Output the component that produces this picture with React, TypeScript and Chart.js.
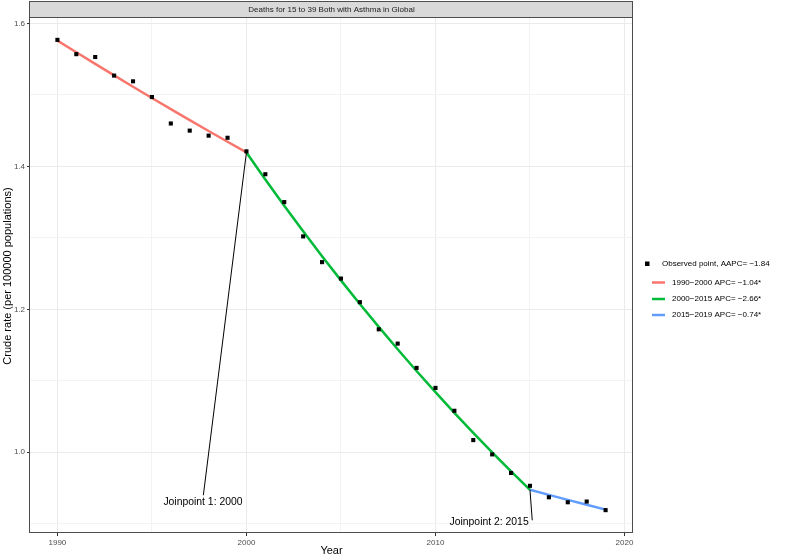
import React, { useEffect, useRef } from 'react';
import { Chart, registerables } from 'chart.js';

Chart.register(...registerables);

const FONT = '"Liberation Sans", Arial, Helvetica, sans-serif';

const TITLE = 'Deaths for 15 to 39 Both with Asthma in Global';
const X_TITLE = 'Year';
const Y_TITLE = 'Crude rate (per 100000 populations)';

const YEARS = [
  1990, 1991, 1992, 1993, 1994, 1995, 1996, 1997, 1998, 1999,
  2000, 2001, 2002, 2003, 2004, 2005, 2006, 2007, 2008, 2009,
  2010, 2011, 2012, 2013, 2014, 2015, 2016, 2017, 2018, 2019,
];
const OBSERVED = [
  1.577, 1.557, 1.553, 1.527, 1.519, 1.497, 1.460, 1.450, 1.443, 1.440,
  1.421, 1.389, 1.350, 1.302, 1.266, 1.243, 1.210, 1.172, 1.152, 1.118,
  1.090, 1.058, 1.017, 0.997, 0.971, 0.953, 0.937, 0.930, 0.931, 0.919,
];

const SEG1_YEARS = [1990, 1991, 1992, 1993, 1994, 1995, 1996, 1997, 1998, 1999, 2000];
const SEG1_FIT = [1.576, 1.5596, 1.5434, 1.5273, 1.5114, 1.4957, 1.4802, 1.4648, 1.4495, 1.4344, 1.4195];
const SEG2_YEARS = [2000, 2001, 2002, 2003, 2004, 2005, 2006, 2007, 2008, 2009, 2010, 2011, 2012, 2013, 2014, 2015];
const SEG2_FIT = [1.4195, 1.3817, 1.345, 1.3092, 1.2744, 1.2405, 1.2075, 1.1754, 1.1441, 1.1137, 1.0841, 1.0552, 1.0272, 0.9999, 0.9733, 0.9474];
const SEG3_YEARS = [2015, 2016, 2017, 2018, 2019];
const SEG3_FIT = [0.9474, 0.9404, 0.9334, 0.9265, 0.9197];

const SEG_LABELS = [
  '1990\u22122000 APC= \u22121.04*',
  '2000\u22122015 APC= \u22122.66*',
  '2015\u22122019 APC= \u22120.74*',
];
const SEG_COLORS = ['#F8766D', '#00BA38', '#619CFF'];
const POINT_LABEL = 'Observed point, AAPC= \u22121.84';

const X_TICKS = [1990, 1995, 2000, 2005, 2010, 2015, 2020];
const X_MAJOR = [1990, 2000, 2010, 2020];
const Y_TICKS = [0.9, 1.0, 1.1, 1.2, 1.3, 1.4, 1.5, 1.6];
const Y_MAJOR = [1.0, 1.2, 1.4, 1.6];

const JOINPOINTS = [
  { text: 'Joinpoint 1: 2000', year: 2000, value: 1.4195, endYear: 1997.72, endValue: 0.9398, labelYear: 1997.7, labelValue: 0.930, align: 'center' },
  { text: 'Joinpoint 2: 2015', year: 2015, value: 0.9474, endYear: 2015.12, endValue: 0.9048, labelYear: 2014.93, labelValue: 0.902, align: 'right' },
];

const isMajor = (list: number[], v: number) => list.some((m) => Math.abs(m - v) < 1e-6);

const decor = {
  id: 'decor',
  afterDatasetsDraw(chart: any) {
    const { ctx, scales } = chart;
    const x = scales.x;
    const y = scales.y;
    ctx.save();
    ctx.strokeStyle = '#000';
    ctx.lineWidth = 1;
    ctx.fillStyle = '#000';
    ctx.font = `10.4px ${FONT}`;
    ctx.textBaseline = 'middle';
    for (const j of JOINPOINTS) {
      ctx.beginPath();
      ctx.moveTo(x.getPixelForValue(j.year), y.getPixelForValue(j.value));
      ctx.lineTo(x.getPixelForValue(j.endYear), y.getPixelForValue(j.endValue));
      ctx.stroke();
      ctx.textAlign = j.align as CanvasTextAlign;
      ctx.fillText(j.text, x.getPixelForValue(j.labelYear), y.getPixelForValue(j.labelValue));
    }
    ctx.restore();
  },
  afterDraw(chart: any) {
    const { ctx, chartArea: a } = chart;
    ctx.save();
    // panel border
    ctx.strokeStyle = '#4d4d4d';
    ctx.lineWidth = 1;
    ctx.strokeRect(a.left - 0.5, a.top + 0.5, a.right - a.left, a.bottom - a.top - 1);
    // strip
    ctx.fillStyle = '#d9d9d9';
    ctx.fillRect(a.left - 0.5, 1.5, a.right - a.left, a.top - 1);
    ctx.strokeRect(a.left - 0.5, 1.5, a.right - a.left, a.top - 1);
    ctx.fillStyle = '#1a1a1a';
    ctx.font = `8px ${FONT}`;
    ctx.textAlign = 'center';
    ctx.textBaseline = 'middle';
    ctx.fillText(TITLE, (a.left + a.right) / 2, (1.5 + a.top) / 2 + 0.5);
    // axis titles
    ctx.fillStyle = '#000';
    ctx.font = `11px ${FONT}`;
    ctx.fillText(X_TITLE, (a.left + a.right) / 2, 550.5);
    ctx.save();
    ctx.translate(8, (a.top + a.bottom) / 2 + 1);
    ctx.rotate(-Math.PI / 2);
    ctx.fillText(Y_TITLE, 0, 0);
    ctx.restore();
    // legend
    ctx.font = `8px ${FONT}`;
    ctx.textAlign = 'left';
    ctx.fillStyle = '#000';
    ctx.fillRect(645, 261.5, 4.5, 4.5);
    ctx.fillText(POINT_LABEL, 662, 264);
    const rows = [282.5, 299, 315];
    SEG_LABELS.forEach((lab, i) => {
      ctx.strokeStyle = SEG_COLORS[i];
      ctx.lineWidth = 2.5;
      ctx.beginPath();
      ctx.moveTo(652, rows[i]);
      ctx.lineTo(665, rows[i]);
      ctx.stroke();
      ctx.fillStyle = '#000';
      ctx.fillText(lab, 672, rows[i]);
    });
    ctx.restore();
  },
};

function gridOpts(major: number[]) {
  return {
    color: (c: any) => (c.tick && isMajor(major, c.tick.value) ? '#ebebeb' : '#f3f3f3'),
    lineWidth: 1,
    tickLength: 3,
    tickWidth: 1,
    tickColor: (c: any) => (c.tick && isMajor(major, c.tick.value) ? '#333333' : 'rgba(0,0,0,0)'),
  };
}

export default function App() {
  const ref = useRef<HTMLCanvasElement | null>(null);
  useEffect(() => {
    if (!ref.current) return;
    const segs = [
      [SEG1_YEARS, SEG1_FIT],
      [SEG2_YEARS, SEG2_FIT],
      [SEG3_YEARS, SEG3_FIT],
    ];
    const chart = new Chart(ref.current, {
      type: 'scatter',
      data: {
        datasets: [
          {
            label: POINT_LABEL,
            data: YEARS.map((yr, i) => ({ x: yr, y: OBSERVED[i] })),
            pointStyle: 'rect',
            pointRadius: 2.9,
            pointBorderWidth: 0,
            backgroundColor: '#000',
            borderColor: '#000',
            showLine: false,
          },
          ...segs.map(([xs, ys], i) => ({
            label: SEG_LABELS[i],
            data: (xs as number[]).map((yr, k) => ({ x: yr, y: (ys as number[])[k] })),
            showLine: true,
            borderColor: SEG_COLORS[i],
            backgroundColor: SEG_COLORS[i],
            borderWidth: 2.5,
            pointRadius: 0,
            tension: 0,
            fill: false,
          })),
        ],
      } as any,
      options: {
        animation: false,
        responsive: false,
        devicePixelRatio: 1,
        layout: { padding: { top: 17, right: 154, left: 0, bottom: 0 } },
        plugins: { legend: { display: false }, tooltip: { enabled: false } },
        scales: {
          x: {
            type: 'linear',
            min: 1988.55,
            max: 2020.45,
            afterBuildTicks: (s: any) => {
              s.ticks = X_TICKS.map((v) => ({ value: v }));
            },
            afterFit: (s: any) => {
              s.height = 23;
            },
            ticks: {
              callback: (v: any) => (isMajor(X_MAJOR, Number(v)) ? String(v) : ''),
              font: { family: FONT, size: 8 },
              color: '#4d4d4d',
              padding: 2,
              maxRotation: 0,
              autoSkip: false,
            },
            grid: gridOpts(X_MAJOR),
            border: { display: false },
          },
          y: {
            type: 'linear',
            min: 0.887,
            max: 1.609,
            afterBuildTicks: (s: any) => {
              s.ticks = Y_TICKS.map((v) => ({ value: v }));
            },
            afterFit: (s: any) => {
              s.width = 30;
            },
            ticks: {
              callback: (v: any) => (isMajor(Y_MAJOR, Number(v)) ? Number(v).toFixed(1) : ''),
              font: { family: FONT, size: 8 },
              color: '#4d4d4d',
              padding: 2,
              autoSkip: false,
            },
            grid: gridOpts(Y_MAJOR),
            border: { display: false },
          },
        },
      } as any,
      plugins: [decor],
    });
    return () => chart.destroy();
  }, []);
  return (
    <div style={{ position: 'fixed', left: 0, top: 0, width: 787, height: 556, background: '#fff' }}>
      <canvas ref={ref} width={787} height={556} style={{ display: 'block' }} />
    </div>
  );
}
